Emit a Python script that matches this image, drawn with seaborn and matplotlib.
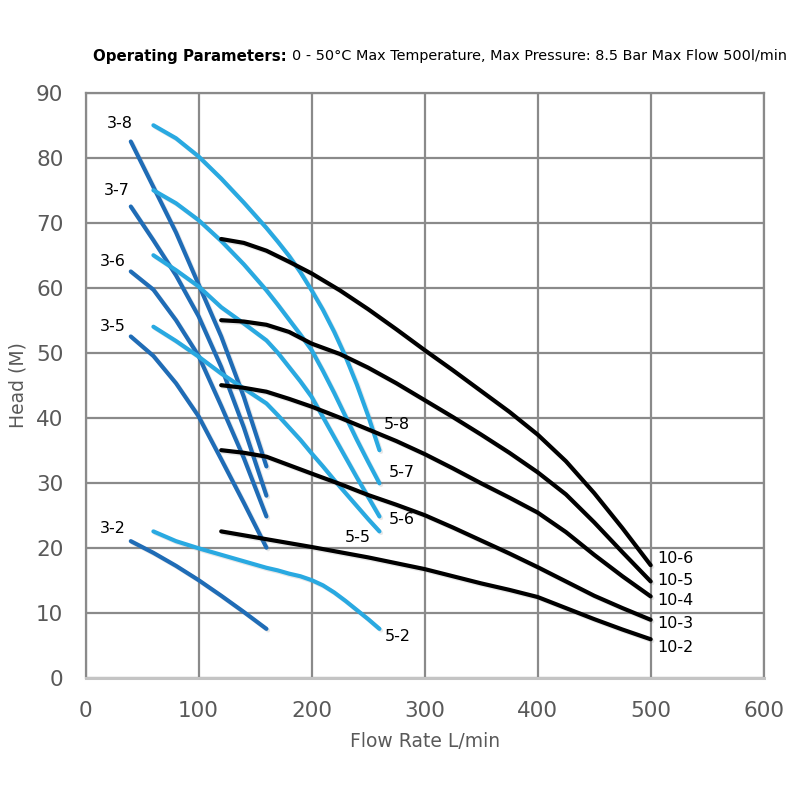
import matplotlib
matplotlib.use("Agg")
import matplotlib.pyplot as plt
import matplotlib.patheffects as pe
import seaborn as sns
import pandas as pd

# ---- data ----
x3 = [40, 60, 80, 100, 120, 140, 160]
h3_2 = [21.0, 19.2, 17.2, 15.0, 12.6, 10.1, 7.5]
h3_5 = [52.5, 49.5, 45.3, 40.2, 33.6, 26.9, 20.0]
h3_6 = [62.5, 59.7, 55.0, 49.5, 41.8, 33.8, 24.8]
h3_7 = [72.5, 67.3, 61.9, 55.6, 47.8, 38.5, 28.0]
h3_8 = [82.5, 75.5, 68.5, 60.5, 52.5, 43.2, 32.5]

x5 = [60, 80, 100, 120, 140, 160, 170, 180, 190, 200, 210, 220, 230, 240, 250, 260]
h5_2 = [22.5, 21.0, 19.9, 18.9, 17.9, 16.9, 16.5, 16.0, 15.6, 15.0, 14.2, 13.1, 11.8, 10.4, 9.0, 7.5]
h5_5 = [54.0, 51.8, 49.4, 46.8, 44.5, 42.2, 40.4, 38.5, 36.6, 34.5, 32.5, 30.4, 28.4, 26.4, 24.4, 22.5]
h5_6 = [65.0, 62.7, 60.2, 57.0, 54.5, 51.9, 50.0, 47.8, 45.6, 43.2, 40.1, 37.0, 33.9, 30.8, 27.8, 24.8]
h5_7 = [75.0, 73.0, 70.4, 67.2, 63.6, 59.6, 57.4, 55.1, 52.8, 50.4, 47.2, 43.8, 40.2, 36.6, 33.2, 29.9]
h5_8 = [85.0, 83.0, 80.2, 76.8, 73.1, 69.2, 67.1, 64.9, 62.4, 59.6, 56.6, 53.2, 49.4, 45.1, 40.3, 35.0]

x10 = [120, 140, 160, 180, 200, 225, 250, 275, 300, 325, 350, 375, 400, 425, 450, 475, 500]
h10_2 = [22.5, 21.9, 21.3, 20.7, 20.1, 19.3, 18.5, 17.6, 16.7, 15.6, 14.5, 13.5, 12.4, 10.7, 9.0, 7.4, 5.9]
h10_3 = [35.0, 34.6, 34.0, 32.7, 31.4, 29.8, 28.1, 26.6, 25.0, 23.1, 21.1, 19.1, 17.0, 14.8, 12.6, 10.7, 8.9]
h10_4 = [45.0, 44.6, 44.0, 42.9, 41.7, 40.0, 38.2, 36.4, 34.4, 32.2, 29.9, 27.7, 25.4, 22.4, 18.9, 15.6, 12.5]
h10_5 = [55.0, 54.8, 54.3, 53.2, 51.4, 49.8, 47.7, 45.3, 42.7, 40.1, 37.4, 34.6, 31.6, 28.2, 23.9, 19.3, 14.8]
h10_6 = [67.5, 66.9, 65.7, 64.0, 62.2, 59.6, 56.7, 53.6, 50.4, 47.3, 44.1, 40.9, 37.4, 33.3, 28.4, 23.0, 17.3]

x_ticks = [0, 100, 200, 300, 400, 500, 600]
y_ticks = [0, 10, 20, 30, 40, 50, 60, 70, 80, 90]

title_bold = "Operating Parameters:"
title_rest = "0 - 50\u00b0C Max Temperature, Max Pressure: 8.5 Bar Max Flow 500l/min"
x_label = "Flow Rate L/min"
y_label = "Head (M)"

# ---- build long table ----
series = [
    ("3-2", x3, h3_2, "dark"), ("3-5", x3, h3_5, "dark"), ("3-6", x3, h3_6, "dark"),
    ("3-7", x3, h3_7, "dark"), ("3-8", x3, h3_8, "dark"),
    ("5-2", x5, h5_2, "light"), ("5-5", x5, h5_5, "light"), ("5-6", x5, h5_6, "light"),
    ("5-7", x5, h5_7, "light"), ("5-8", x5, h5_8, "light"),
    ("10-2", x10, h10_2, "black"), ("10-3", x10, h10_3, "black"), ("10-4", x10, h10_4, "black"),
    ("10-5", x10, h10_5, "black"), ("10-6", x10, h10_6, "black"),
]
rows = []
for name, xs, ys, grp in series:
    for xv, yv in zip(xs, ys):
        rows.append({"model": name, "flow": xv, "head": yv, "group": grp})
df = pd.DataFrame(rows)

col = {"dark": "#1f6cb6", "light": "#29a9e1", "black": "#000000"}
palette = {name: col[grp] for name, _, _, grp in series}

sns.set_theme(style="white")
plt.rcParams["font.family"] = ["DejaVu Sans"]

fig = plt.figure(figsize=(8, 8), dpi=100)
ax = fig.add_axes([0.107, 0.153, 0.8476, 0.731])

sns.lineplot(data=df, x="flow", y="head", hue="model", palette=palette,
             estimator=None, sort=False, legend=False, ax=ax, linewidth=3.0)
for ln in ax.get_lines():
    ln.set_solid_capstyle("round")
    ln.set_solid_joinstyle("round")
    ln.set_path_effects([pe.SimpleLineShadow(offset=(1.2, -1.2), alpha=0.18, shadow_color="gray"),
                         pe.Normal()])
    ln.set_zorder(3)

ax.set_xlim(0, 600)
ax.set_ylim(0, 90)
ax.set_xticks(x_ticks)
ax.set_yticks(y_ticks)
ax.grid(True, color="#8a8a8a", linewidth=1.6)
ax.set_axisbelow(True)
for s in ax.spines.values():
    s.set_color("#8a8a8a")
    s.set_linewidth(1.6)
ax.spines["bottom"].set_color("#c4c4c4")
ax.spines["bottom"].set_linewidth(2.2)
ax.tick_params(axis="x", length=0, labelsize=15.5, labelcolor="#595959", pad=17)
ax.tick_params(axis="y", length=0, labelsize=15.5, labelcolor="#595959", pad=16)
ax.set_xlabel(x_label, fontsize=13.5, color="#595959", labelpad=8)
ax.set_ylabel(y_label, fontsize=13.5, color="#595959", labelpad=6)

# curve labels
lab_fs = 11.5
labels = [
    ("3-8", 30.5, 85.3), ("3-7", 27.7, 75.0), ("3-6", 24.2, 64.0), ("3-5", 24.2, 54.0),
    ("3-2", 24.2, 22.9),
    ("5-8", 275.6, 39.0), ("5-7", 280.0, 31.5), ("5-6", 280.0, 24.3), ("5-5", 241.0, 21.6),
    ("5-2", 276.0, 6.4),
    ("10-6", 521.7, 18.4), ("10-5", 521.7, 14.9), ("10-4", 521.7, 11.8), ("10-3", 521.7, 8.3),
    ("10-2", 521.7, 4.6),
]
for t, xv, yv in labels:
    ax.text(xv, yv, t, fontsize=lab_fs, color="black", ha="center", va="center", zorder=5)

# title with bold lead
t1 = fig.text(93 / 800, 1 - 56 / 800, title_bold, fontsize=10.8, fontweight="bold",
              color="black", ha="left", va="center")
fig.canvas.draw()
bb = t1.get_window_extent(renderer=fig.canvas.get_renderer())
fig.text((bb.x1 + 5) / 800, 1 - 56 / 800, title_rest, fontsize=10.4, color="black",
         ha="left", va="center")

fig.savefig("out.png", dpi=100, facecolor="white")
